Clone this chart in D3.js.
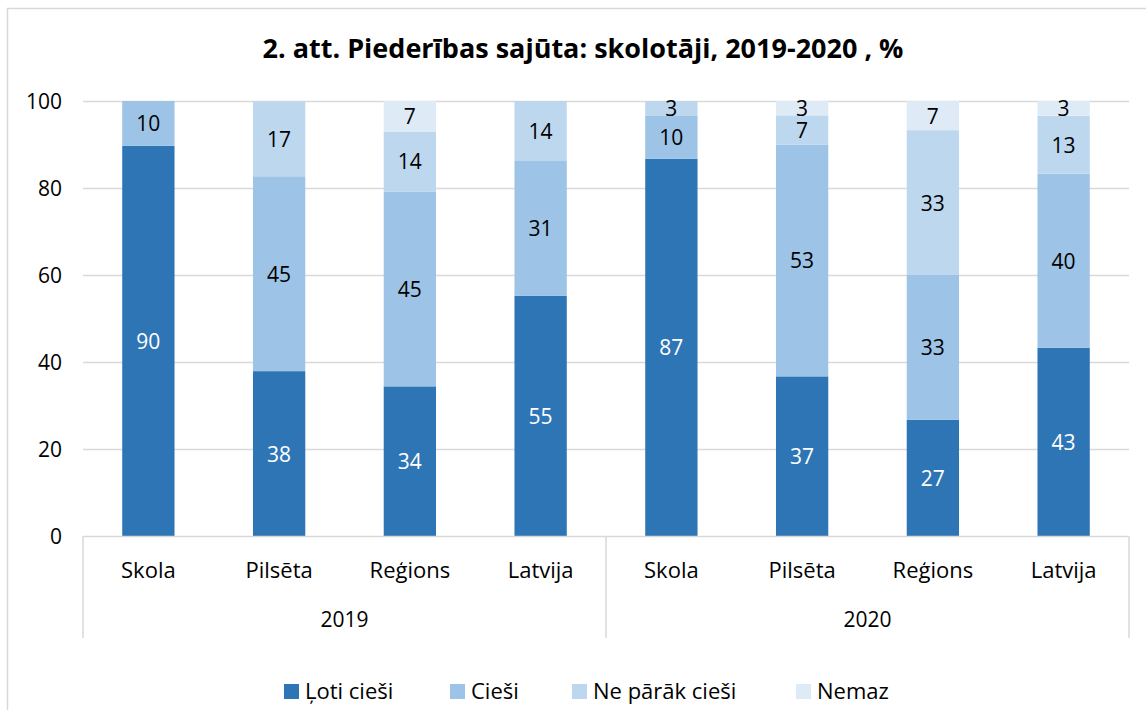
<!DOCTYPE html>
<head>
  <meta charset="utf-8">
  <script src="https://d3js.org/d3.v7.min.js"></script>
  <style>
    body { margin:0; background:#fff; }
    text { font-family: "Open Sans", sans-serif; fill:#000; }
  </style>
</head>
<body>
<script>
  // data (shares in %, labels shown rounded)
  var years = ["2019", "2020"];
  var places = ["Skola", "Pilsēta", "Reģions", "Latvija"];
  var seriesNames = ["Ļoti cieši", "Cieši", "Ne pārāk cieši", "Nemaz"];
  var lotiCiesi = [89.7, 37.9, 34.4, 55.2, 86.7, 36.7, 26.7, 43.3];
  var ciesi = [10.3, 44.8, 44.8, 31.0, 10.0, 53.3, 33.3, 40.0];
  var neParak = [0, 17.2, 13.8, 13.8, 3.3, 6.7, 33.3, 13.3];
  var nemaz = [0, 0, 7.0, 0, 0, 3.3, 6.7, 3.4];
  var yTicks = [0, 20, 40, 60, 80, 100];
  var colors = ["#2e75b6", "#9dc3e6", "#bdd7ee", "#deebf7"];

  var W = 1146, H = 710;
  var plotL = 83, plotR = 1129, plotT = 101, plotB = 536;

  var svg = d3.select("body").append("svg")
      .attr("width", W)
      .attr("height", H);

  // outer frame
  svg.append("rect")
      .attr("x", 7.5).attr("y", 8.5)
      .attr("width", 1160).attr("height", 760)
      .attr("fill", "none").attr("stroke", "#d9d9d9").attr("stroke-width", 1.5);

  svg.append("text")
      .attr("x", 583).attr("y", 58)
      .attr("text-anchor", "middle")
      .style("font-size", "27px").style("font-weight", "bold")
      .text("2. att. Piederības sajūta: skolotāji, 2019-2020 , %");

  // build table for the stack
  var keys = [];
  years.forEach(function(yr) {
    places.forEach(function(p) { keys.push(yr + "|" + p); });
  });
  var rows = keys.map(function(k, i) {
    return { key: k, s0: lotiCiesi[i], s1: ciesi[i], s2: neParak[i], s3: nemaz[i] };
  });
  var stack = d3.stack().keys(["s0", "s1", "s2", "s3"])(rows);

  var x = d3.scaleBand().domain(keys).range([plotL, plotR]).paddingInner(0.6).paddingOuter(0.3);
  var y = d3.scaleLinear().domain([0, 100]).range([plotB, plotT]);

  // grid
  svg.append("g").selectAll("line")
      .data(yTicks.filter(function(d) { return d > 0; }))
      .enter().append("line")
      .attr("x1", plotL).attr("x2", plotR)
      .attr("y1", function(d) { return Math.round(y(d)) + 0.5; })
      .attr("y2", function(d) { return Math.round(y(d)) + 0.5; })
      .attr("stroke", "#d9d9d9").attr("stroke-width", 1.5);

  // y axis labels
  svg.append("g").selectAll("text")
      .data(yTicks)
      .enter().append("text")
      .attr("x", 62).attr("y", function(d) { return y(d) + 8; })
      .attr("text-anchor", "end")
      .style("font-size", "21px")
      .text(function(d) { return d; });

  // bars
  var layers = svg.append("g").selectAll("g")
      .data(stack)
      .enter().append("g")
      .attr("fill", function(d, i) { return colors[i]; });

  layers.selectAll("rect")
      .data(function(d) { return d; })
      .enter().append("rect")
      .attr("x", function(d) { return x(d.data.key); })
      .attr("width", x.bandwidth())
      .attr("y", function(d) { return y(d[1]); })
      .attr("height", function(d) { return y(d[0]) - y(d[1]); });

  // value labels
  stack.forEach(function(layer, li) {
    svg.append("g").selectAll("text")
        .data(layer.filter(function(d) { return d[1] - d[0] > 0; }))
        .enter().append("text")
        .attr("x", function(d) { return x(d.data.key) + x.bandwidth() / 2; })
        .attr("y", function(d) { return (y(d[0]) + y(d[1])) / 2 + 8; })
        .attr("text-anchor", "middle")
        .style("font-size", "21px")
        .style("fill", li === 0 ? "#fff" : "#000")
        .text(function(d) { return Math.round(d[1] - d[0]); });
  });

  // category axis
  var axisG = svg.append("g").attr("stroke", "#d9d9d9").attr("stroke-width", 1.5);
  axisG.append("line").attr("x1", plotL).attr("x2", plotR).attr("y1", plotB + 0.5).attr("y2", plotB + 0.5);
  var mid = (plotL + plotR) / 2;
  [plotL, mid, plotR].forEach(function(xx) {
    axisG.append("line").attr("x1", xx).attr("x2", xx).attr("y1", plotB).attr("y2", 638);
  });

  svg.append("g").selectAll("text")
      .data(keys)
      .enter().append("text")
      .attr("x", function(d) { return x(d) + x.bandwidth() / 2; })
      .attr("y", 578)
      .attr("text-anchor", "middle")
      .style("font-size", "22px")
      .text(function(d) { return d.split("|")[1]; });

  svg.append("g").selectAll("text")
      .data(years)
      .enter().append("text")
      .attr("x", function(d, i) { return i === 0 ? (plotL + mid) / 2 : (mid + plotR) / 2; })
      .attr("y", 627)
      .attr("text-anchor", "middle")
      .style("font-size", "21px")
      .text(function(d) { return d; });

  // legend
  var legX = [284, 450, 572, 796];
  var leg = svg.append("g").selectAll("g")
      .data(seriesNames)
      .enter().append("g")
      .attr("transform", function(d, i) { return "translate(" + legX[i] + ",684)"; });
  leg.append("rect").attr("width", 15).attr("height", 15)
      .attr("fill", function(d, i) { return colors[i]; });
  leg.append("text").attr("x", 21).attr("y", 15)
      .style("font-size", "22px")
      .text(function(d) { return d; });
</script>
</body>
